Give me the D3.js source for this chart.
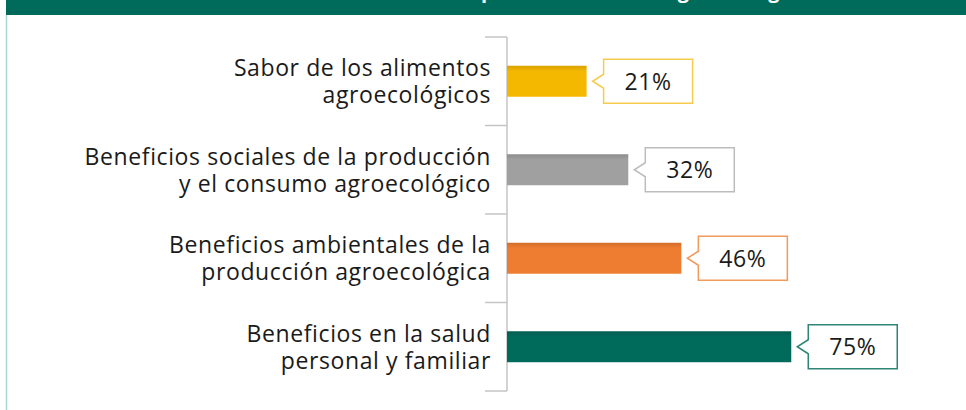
<!DOCTYPE html>
<html>
<head>
<meta charset="utf-8">
<script src="https://cdn.jsdelivr.net/npm/d3@7"></script>
<style>
  html, body { margin: 0; padding: 0; background: #fff; }
  svg { display: block; font-family: "Open Sans", Lato, sans-serif; }
</style>
</head>
<body>
<svg id="chart" width="966" height="410"></svg>
<script>
// chart data
const categories = [
  'Sabor de los alimentos agroecológicos',
  'Beneficios sociales de la producción y el consumo agroecológico',
  'Beneficios ambientales de la producción agroecológica',
  'Beneficios en la salud personal y familiar'
];
const labelLines = [
  ['Sabor de los alimentos', 'agroecológicos'],
  ['Beneficios sociales de la producción', 'y el consumo agroecológico'],
  ['Beneficios ambientales de la', 'producción agroecológica'],
  ['Beneficios en la salud', 'personal y familiar']
];
const values = [21, 32, 46, 75];
const barColors = ['#F5B800', '#A0A0A0', '#EE7D31', '#006B5B'];
const boxColors = ['#F7CB4E', '#BDBDBD', '#F29A5C', '#2F8676'];
const title = 'Razones de compra de alimentos agroecológicos';

const W = 966, H = 410;
const svg = d3.select('#chart');

// header band + left rule
svg.append('rect')
    .attr('x', 6).attr('y', 0)
    .attr('width', W - 6).attr('height', 15)
    .attr('fill', '#006B5B');
svg.append('line')
    .attr('x1', 6.5).attr('x2', 6.5)
    .attr('y1', 15).attr('y2', H)
    .attr('stroke', '#A9D6CD').attr('stroke-width', 1.5);

// title, mostly cut off by the top edge (only descenders show)
const t = svg.append('text')
    .attr('y', -2)
    .attr('fill', '#fff')
    .attr('font-weight', 700)
    .attr('font-size', 20)
    .attr('letter-spacing', 0.6)
    .text(title);
const pIdx = title.indexOf('p');
const pX = t.node().getStartPositionOfChar(pIdx).x;
t.attr('x', 481 - pX);

const x = d3.scaleLinear().domain([0, 100]).range([507, 886]);
const y = d3.scaleBand()
    .domain(categories)
    .range([37, 391])
    .paddingInner(0.65)
    .paddingOuter(0.325);

// bar shading
const defs = svg.append('defs');
barColors.forEach((c, i) => {
  const g = defs.append('linearGradient')
      .attr('id', 'g' + i)
      .attr('x1', 0).attr('x2', 0).attr('y1', 0).attr('y2', 1);
  const dark = d3.color(c).darker(0.35);
  g.append('stop').attr('offset', '0%').attr('stop-color', dark);
  g.append('stop').attr('offset', '18%').attr('stop-color', c);
  g.append('stop').attr('offset', '100%').attr('stop-color', c);
});

// axis: vertical line + category separators
const sep = [37].concat(categories.map(c => y(c) - y.step() * y.paddingInner() / 2 + y.step()));
svg.append('line')
    .attr('x1', x(0)).attr('x2', x(0))
    .attr('y1', 37).attr('y2', 391)
    .attr('stroke', '#C4C4C4').attr('stroke-width', 1.5);
svg.selectAll('.sep')
  .data(sep)
  .join('line')
    .attr('class', 'sep')
    .attr('x1', 485).attr('x2', x(0))
    .attr('y1', d => d).attr('y2', d => d)
    .attr('stroke', '#C4C4C4').attr('stroke-width', 1.5);

const rows = svg.selectAll('.row')
  .data(categories)
  .join('g')
    .attr('class', 'row');

rows.append('rect')
    .attr('x', x(0))
    .attr('y', d => y(d))
    .attr('width', (d, i) => x(values[i]) - x(0))
    .attr('height', y.bandwidth())
    .attr('fill', (d, i) => `url(#g${i})`);

// category labels
rows.append('text')
    .attr('text-anchor', 'end')
    .attr('font-size', 23)
    .attr('letter-spacing', 0.6)
    .attr('fill', '#1a1a1a')
    .selectAll('tspan')
    .data((d, i) => labelLines[i].map(s => ({ s, c: d })))
    .join('tspan')
      .attr('x', 491)
      .attr('y', (d, j) => y(d.c) + y.bandwidth() / 2 + (j === 0 ? -5 : 22))
      .text(d => d.s);

// callouts
const bw = 89, bh = 44, gap = 6, notch = 11, nh = 7;
rows.append('path')
    .attr('d', (d, i) => {
      const tip = x(values[i]) + gap;
      const cy = y(d) + y.bandwidth() / 2;
      const x0 = tip + notch, x1 = x0 + bw;
      const y0 = cy - bh / 2, y1 = cy + bh / 2;
      return `M${x0},${y0}H${x1}V${y1}H${x0}V${cy + nh}L${tip},${cy}L${x0},${cy - nh}Z`;
    })
    .attr('fill', '#fff')
    .attr('stroke', (d, i) => boxColors[i])
    .attr('stroke-width', 1.5);

rows.append('text')
    .attr('x', (d, i) => x(values[i]) + gap + notch + bw / 2)
    .attr('y', d => y(d) + y.bandwidth() / 2 + 8.5)
    .attr('text-anchor', 'middle')
    .attr('font-size', 23)
    .attr('letter-spacing', 0.6)
    .attr('fill', '#1a1a1a')
    .text((d, i) => values[i] + '%');
</script>
</body>
</html>
